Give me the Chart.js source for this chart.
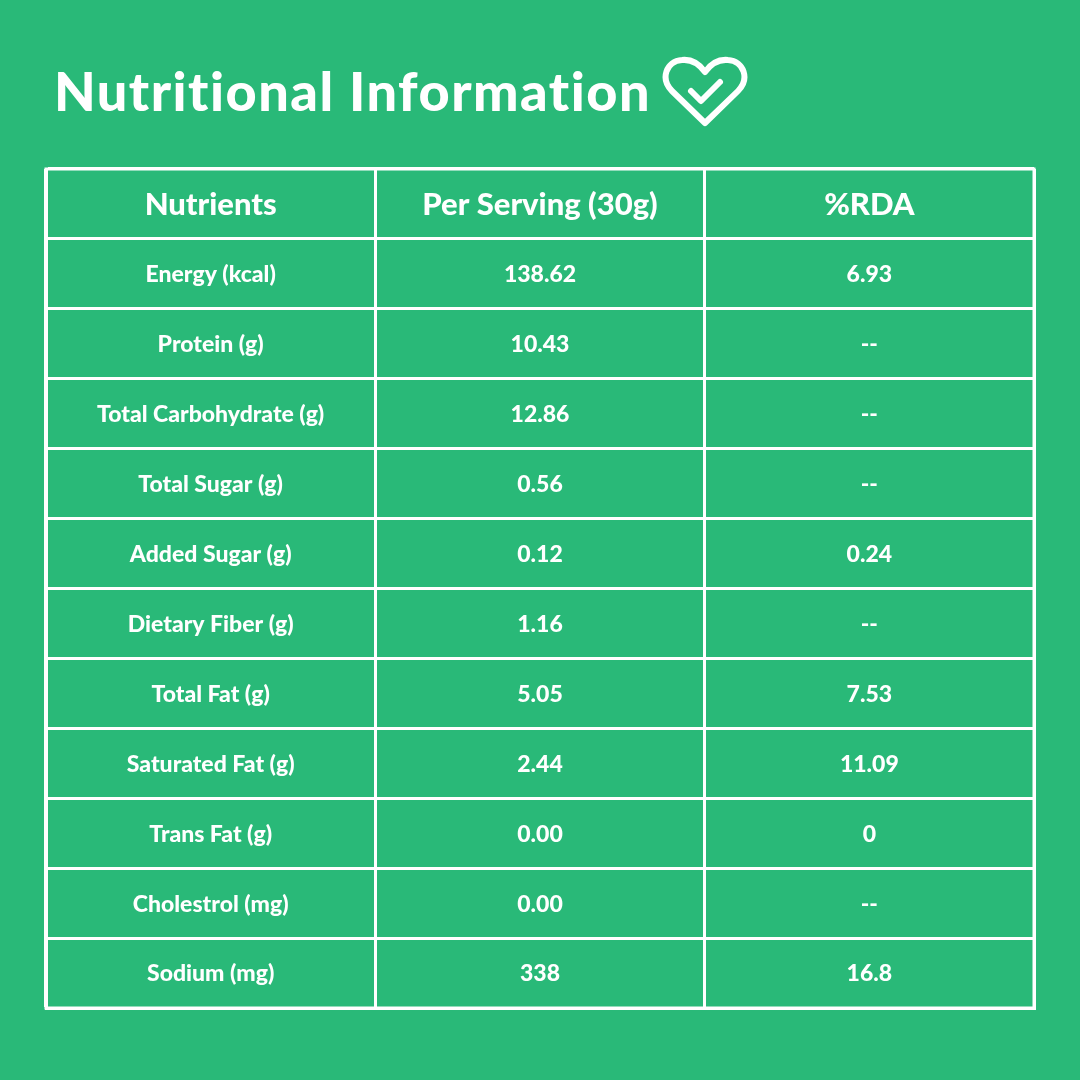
<!DOCTYPE html>
<html><head><meta charset="utf-8">
<script src="https://cdn.jsdelivr.net/npm/chart.js@4"></script>
<style>
html,body{margin:0;padding:0;background:#29b978;}
#wrap{position:relative;width:1080px;height:1080px;}
#title{position:absolute;left:54px;top:64px;font-family:Lato,sans-serif;font-weight:900;font-size:54px;color:#fff;letter-spacing:1.5px;line-height:1;white-space:nowrap;}
#heart{position:absolute;left:662px;top:55px;}
canvas{position:absolute;left:0;top:0;}
</style></head><body>
<div id="wrap">
<canvas id="c" width="1080" height="1080"></canvas>
<div id="title">Nutritional Information</div>
<svg id="heart" width="86" height="74" viewBox="0 0 86 74"><path d="M43 68 L10 36 C-2 24 4 6 20 5 C30 4 38 10 43 17 C48 10 56 4 66 5 C82 6 88 24 76 36 Z" fill="none" stroke="#fff" stroke-width="6" stroke-linejoin="round"/><path d="M29 36 L39 46 L58 27" fill="none" stroke="#fff" stroke-width="6" stroke-linecap="round" stroke-linejoin="round"/></svg>
</div>
<script>
const columns = ["Nutrients", "Per Serving (30g)", "%RDA"];
const nutrients = ["Energy (kcal)","Protein (g)","Total Carbohydrate (g)","Total Sugar (g)","Added Sugar (g)","Dietary Fiber (g)","Total Fat (g)","Saturated Fat (g)","Trans Fat (g)","Cholestrol (mg)","Sodium (mg)"];
const perServing = ["138.62","10.43","12.86","0.56","0.12","1.16","5.05","2.44","0.00","0.00","338"];
const rda = ["6.93","--","--","--","0.24","--","7.53","11.09","0","--","16.8"];

const rows = ["__header__", ...nutrients];
const cells = [];
columns.forEach((c,i)=>cells.push({x:c,y:"__header__",t:c,h:true}));
nutrients.forEach((n,i)=>{
  cells.push({x:columns[0],y:n,t:n});
  cells.push({x:columns[1],y:n,t:perServing[i]});
  cells.push({x:columns[2],y:n,t:rda[i]});
});

const textPlugin = {
  id:'cellText',
  afterDatasetsDraw(chart){
    const ctx=chart.ctx, xs=chart.scales.x, ys=chart.scales.y;
    ctx.save();
    ctx.fillStyle='#fff';ctx.textAlign='center';ctx.textBaseline='middle';
    chart.data.datasets[0].data.forEach(d=>{
      const px=xs.getPixelForValue(columns.indexOf(d.x));
      const py=ys.getPixelForValue(rows.indexOf(d.y));
      ctx.font=d.h?'900 31px Lato, sans-serif':'900 23px Lato, sans-serif';
      ctx.fillText(d.t,px,py+1);
    });
    ctx.restore();
  }
};

new Chart(document.getElementById('c'),{
  type:'scatter',
  data:{datasets:[{data:cells,pointRadius:0,pointHoverRadius:0}]},
  options:{
    responsive:false,animation:false,
    layout:{padding:{left:46,right:46,top:169,bottom:72}},
    plugins:{legend:{display:false},tooltip:{enabled:false}},
    scales:{
      x:{type:'category',labels:columns,offset:true,
         grid:{offset:true,color:'#fff',lineWidth:3,drawTicks:false},
         border:{display:true,color:'#fff',width:3},
         ticks:{display:false}},
      y:{type:'category',labels:rows,offset:true,reverse:false,
         grid:{offset:true,color:'#fff',lineWidth:3,drawTicks:false},
         border:{display:true,color:'#fff',width:3},
         ticks:{display:false}}
    }
  },
  plugins:[textPlugin,{id:'edges',afterDraw(chart){const a=chart.chartArea,ctx=chart.ctx;ctx.save();ctx.strokeStyle='#fff';ctx.lineWidth=3;ctx.strokeRect(a.left,a.top,a.right-a.left,a.bottom-a.top);ctx.restore();}}]
});
</script>
</body></html>
